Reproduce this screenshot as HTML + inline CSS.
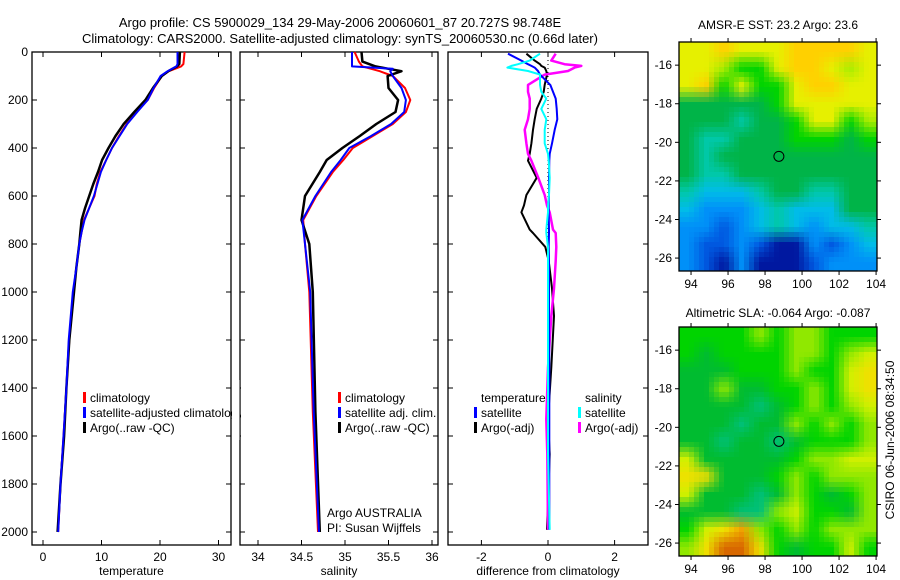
<!DOCTYPE html>
<html><head><meta charset="utf-8"><style>
body{margin:0;background:#fff}
svg{display:block;font-family:"Liberation Sans",sans-serif;font-size:12px}
</style></head><body>
<svg id="fig" width="900" height="580" xmlns="http://www.w3.org/2000/svg">
<rect width="900" height="580" fill="#fff"/>
<text x="340" y="27" text-anchor="middle" font-size="13">Argo profile: CS 5900029_134 29-May-2006 20060601_87 20.727S 98.748E</text>
<text x="340" y="43" text-anchor="middle" font-size="13">Climatology: CARS2000. Satellite-adjusted climatology: synTS_20060530.nc (0.66d later)</text>
<text x="778" y="29" text-anchor="middle">AMSR-E SST: 23.2 Argo: 23.6</text>
<text x="778" y="317" text-anchor="middle">Altimetric SLA: -0.064 Argo: -0.087</text>
<text transform="translate(894,440) rotate(-90)" text-anchor="middle">CSIRO 06-Jun-2006 08:34:50</text>
<g id="plots"></g>
</svg>
<script>
// ---- data ----
const depthT = [0,50,60,80,100,150,200,250,300,350,400,450,500,550,600,650,700,750,800,900,1000,1200,1400,1600,1800,2000];
const tempClim = [24.2,24.0,23.6,21.5,20.3,19.0,17.9,16.0,14.3,13.0,11.8,10.8,9.8,9.2,8.8,7.9,7.0,6.6,6.2,5.7,5.2,4.5,4.0,3.5,3.0,2.6];
const tempSat  = [23.0,23.0,22.8,21.3,20.1,18.9,17.9,16.1,14.4,13.1,11.8,10.8,9.9,9.3,8.7,7.9,7.1,6.6,6.2,5.7,5.1,4.4,4.0,3.5,3.0,2.6];
const tempArgo = [23.4,23.3,22.9,21.4,20.3,18.8,17.5,15.6,13.8,12.4,11.2,10.1,9.4,8.6,7.9,7.2,6.6,6.4,6.2,5.7,5.3,4.5,4.0,3.6,3.0,2.5];
const depthS = [0,40,60,70,80,100,150,200,250,300,350,400,450,500,600,700,800,1000,1500,2000];
const salClim = [35.11,35.16,35.20,35.30,35.40,35.55,35.69,35.75,35.70,35.55,35.32,35.09,34.98,34.86,34.67,34.52,34.54,34.59,34.63,34.69];
const salSat  = [35.08,35.08,35.08,35.55,35.52,35.55,35.65,35.70,35.68,35.53,35.30,35.05,34.95,34.84,34.66,34.51,34.54,34.60,34.64,34.70];
const salArgo = [35.19,35.20,35.35,35.50,35.65,35.49,35.50,35.61,35.58,35.36,35.17,34.97,34.79,34.71,34.54,34.50,34.59,34.63,34.66,34.71];
const depthD = [7,36,51,58,65,79,94,137,166,194,237,280,324,381,424,453,524,596,639,668,740,754,812,870,985,1100,1315,1531,1675,1991];
const diffTsat = [-1.2,-0.8,-0.6,-0.5,-0.4,-0.3,-0.24,0.07,0.15,0.23,0.26,0.28,0.2,0.12,0.05,0.04,0.03,0.03,0.02,0.02,0.03,0.03,0.02,0.03,0.03,0.03,0.04,0.04,0.04,0.04];
const diffTargo = [-0.65,-0.4,-0.24,-0.2,-0.1,-0.05,-0.03,-0.1,-0.13,-0.2,-0.34,-0.4,-0.45,-0.5,-0.55,-0.6,-0.34,-0.65,-0.72,-0.8,-0.55,-0.45,-0.08,0.02,0.12,0.18,0.1,0.0,0.05,-0.03];
const diffSsat = [-0.24,-0.55,-0.9,-1.1,-1.22,-0.6,-0.24,-0.24,-0.2,-0.05,-0.2,-0.05,-0.1,-0.1,0.0,0.02,0.05,0.03,0.0,0.0,-0.05,-0.05,0.0,0.0,0.0,0.0,0.0,0.0,0.0,0.05];
const diffSargo = [0.23,0.1,0.5,1.0,0.8,0.6,-0.1,-0.6,-0.6,-0.55,-0.55,-0.6,-0.7,-0.65,-0.6,-0.5,-0.29,-0.1,-0.03,0.05,0.15,0.23,0.25,0.23,0.18,0.1,0.0,-0.05,-0.02,0.0];
const tempTicks = [0,10,20,30];
const salTicks = [34,34.5,35,35.5,36];
const diffTicks = [-2,0,2];
const depthTicks = [0,200,400,600,800,1000,1200,1400,1600,1800,2000];
const lonTicks = [94,96,98,100,102,104];
const latTicks = [-16,-18,-20,-22,-24,-26];
const argoLon = 98.748, argoLat = -20.727;
const sstGrid = ["YYOYYYOOOOY","YYLGGYOOYLY","YOGYGGYOOYY","DDDDDGYYYYY","DDDTDDGYYGL","DTTDDDGGGDG","DTDDDDDDDDD","DTTDDDDDDDD","TCCCTDDTTDD","CBBBCTCCCDD","BBbBCTCBCCT","BbbBbNNBbBC","BbNBNNNbBBB"];
const slaGrid = ["GGGGLGLLGGG","GDGGGGLLGLY","DDDGGGLGGYy","DDLDDGGLGYy","DDDDTDGLGLY","DDDTDDLGLGL","DDTDDTDGGGL","YDDDDDGLLYY","yyDDDGLGLLL","YDDDTDLGDGL","DDDTTLYGGDL","GYyOLGLGLLL","LyRRyGDGGYG"];
// ---- drawing ----
const NS="http://www.w3.org/2000/svg";
const root=document.getElementById('plots');
function el(tag,attrs,parent){const e=document.createElementNS(NS,tag);for(const k in attrs)e.setAttribute(k,attrs[k]);(parent||root).appendChild(e);return e;}
const top0=52, pxm=0.24;
const yD=d=>top0+d*pxm;
const panels=[
 {x0:32,x1:231,sx:v=>43+v*5.85,ticks:tempTicks,lab:'temperature',name:'temperature-panel'},
 {x0:240,x1:438,sx:v=>258+(v-34)*87,ticks:salTicks,lab:'salinity',name:'salinity-panel'},
 {x0:448,x1:648,sx:v=>548+v*33.3,ticks:diffTicks,lab:'difference from climatology',name:'difference-panel'}];
const PB=545;
panels.forEach((p,i)=>{
  const g=el('g',{});
  
  
  const r=el('rect',{x:p.x0,y:top0,width:p.x1-p.x0,height:PB-top0,fill:'none',stroke:'#000','stroke-width':1.3},g);
  
  
  p.ticks.forEach(t=>{const x=p.sx(t);
    el('line',{x1:x,x2:x,y1:PB,y2:PB-5,stroke:'#000'},g);
    el('line',{x1:x,x2:x,y1:top0,y2:top0+5,stroke:'#000'},g);
    const tx=el('text',{x:x,y:PB+16,'text-anchor':'middle'},g);tx.textContent=t;
    
    
  });
  depthTicks.forEach(d=>{const y=yD(d);
    el('line',{x1:p.x0,x2:p.x0+5,y1:y,y2:y,stroke:'#000'},g);
    el('line',{x1:p.x1,x2:p.x1-5,y1:y,y2:y,stroke:'#000'},g);
    if(i===0){const tx=el('text',{x:28,y:y+4,'text-anchor':'end'},g);tx.textContent=d;
      
      }
  });
  const xl=el('text',{x:(p.x0+p.x1)/2,y:PB+30,'text-anchor':'middle'},g);xl.textContent=p.lab;
  
  
});
function line(p,xs,ds,color,w,name){
  const pts=xs.map((v,k)=>p.sx(v).toFixed(1)+','+yD(ds[k]).toFixed(1)).join(' ');
  const l=el('polyline',{points:pts,fill:'none',stroke:color,'stroke-width':w,'stroke-linejoin':'round'});
  
  
}
const [P1,P2,P3]=panels;
line(P1,tempClim,depthT,'#f00',2,'temp-climatology-line');
line(P1,tempArgo,depthT,'#000',2.5,'temp-argo-line');
line(P1,tempSat,depthT,'#00f',2,'temp-satellite-line');
line(P2,salClim,depthS,'#f00',2,'sal-climatology-line');
line(P2,salArgo,depthS,'#000',2.5,'sal-argo-line');
line(P2,salSat,depthS,'#00f',2,'sal-satellite-line');
const zl=el('line',{x1:P3.sx(0),x2:P3.sx(0),y1:yD(0),y2:yD(2000),stroke:'#000','stroke-dasharray':'1,3'});


line(P3,diffTargo,depthD,'#000',2,'diff-temp-argo-line');
line(P3,diffSargo,depthD,'#f0f',2.5,'diff-sal-argo-line');
line(P3,diffTsat,depthD,'#00f',2,'diff-temp-satellite-line');
line(P3,diffSsat,depthD,'#0ff',2,'diff-sal-satellite-line');
function legend(x,y,items){
  items.forEach((it,k)=>{const yy=y+k*15;
    if(it.c){const m=el('rect',{x:x,y:yy-10,width:3,height:11,fill:it.c});
      
      }
    const t=el('text',{x:x+7,y:yy});t.textContent=it.t;
    
    
  });
}
legend(83,402,[{c:'#f00',t:'climatology'},{c:'#00f',t:'satellite-adjusted climatology'},{c:'#000',t:'Argo(..raw -QC)'}]);
const cover=el('rect',{x:232,y:380,width:7.5,height:60,fill:'#fff'});

const cover2=el('rect',{x:241,y:380,width:10,height:60,fill:'#fff'});

legend(338,402,[{c:'#f00',t:'climatology'},{c:'#00f',t:'satellite adj. clim.'},{c:'#000',t:'Argo(..raw -QC)'}]);
legend(320,517,[{t:'Argo AUSTRALIA'},{t:'PI: Susan Wijffels'}]);
legend(474,402,[{t:'temperature'},{c:'#00f',t:'satellite'},{c:'#000',t:'Argo(-adj)'}]);
legend(578,402,[{t:'salinity'},{c:'#0ff',t:'satellite'},{c:'#f0f',t:'Argo(-adj)'}]);
// maps
const sstPal={O:'#ffd000',Y:'#e6f000',L:'#a8ec00',G:'#00d400',D:'#00b448',T:'#00c8a8',C:'#00bce8',B:'#0090f8',b:'#0058e0',N:'#0018a0'};
const slaPal={G:'#00d400',D:'#00bc30',T:'#00c078',L:'#90e800',Y:'#d0f000',y:'#f0e000',O:'#f0a000',R:'#d86800'};
function hex(c){return [parseInt(c.substr(1,2),16),parseInt(c.substr(3,2),16),parseInt(c.substr(5,2),16)];}
function map(y0,grid,pal,name){
  const x0=679,x1=877,y1=y0+229;
  const g=el('g',{});
  
  
  const lonMin=93.35,lonMax=104.05,latTop=-14.8,latBot=-26.67;
  const sx=l=>x0+(l-lonMin)/(lonMax-lonMin)*(x1-x0);
  const sy=l=>y0+(latTop-l)/(latTop-latBot)*(y1-y0);
  const R=grid.length,C=grid[0].length;
  const cols=grid.map(row=>[...row].map(c=>hex(pal[c])));
  const step=5;
  for(let py=y0;py<y1;py+=step){for(let px=x0;px<x1;px+=step){
    const fx=Math.min(Math.max((px+step/2-x0)/(x1-x0)*C-0.5,0),C-1);
    const fy=Math.min(Math.max((py+step/2-y0)/(y1-y0)*R-0.5,0),R-1);
    const i0=Math.floor(fx),j0=Math.floor(fy),i1=Math.min(i0+1,C-1),j1=Math.min(j0+1,R-1);
    const ax=fx-i0,ay=fy-j0;
    const c=[0,1,2].map(k=>Math.round(cols[j0][i0][k]*(1-ax)*(1-ay)+cols[j0][i1][k]*ax*(1-ay)+cols[j1][i0][k]*(1-ax)*ay+cols[j1][i1][k]*ax*ay));
    const cell=el('rect',{x:px,y:py,width:Math.min(step,x1-px)+0.4,height:Math.min(step,y1-py)+0.4,fill:'rgb('+c.join(',')+')'},g);
    
    
  }}
  el('rect',{x:x0,y:y0,width:x1-x0,height:y1-y0,fill:'none',stroke:'#000','stroke-width':1.3},g);
  lonTicks.forEach(l=>{const x=sx(l);
    el('line',{x1:x,x2:x,y1:y1,y2:y1+4,stroke:'#000'},g);
    el('line',{x1:x,x2:x,y1:y0,y2:y0-4,stroke:'#000'},g);
    const t=el('text',{x:x,y:y1+17,'text-anchor':'middle'},g);t.textContent=l;
    });
  latTicks.forEach(l=>{const y=sy(l);
    el('line',{x1:x0,x2:x0-4,y1:y,y2:y,stroke:'#000'},g);
    el('line',{x1:x1,x2:x1+4,y1:y,y2:y,stroke:'#000'},g);
    const t=el('text',{x:x0-7,y:y+4,'text-anchor':'end'},g);t.textContent=l;
    });
  const c=el('circle',{cx:sx(argoLon),cy:sy(argoLat),r:5,fill:'none',stroke:'#000'},g);
  
  
}
map(42,sstGrid,sstPal,'sst-map');
map(327,slaGrid,slaPal,'sla-map');
</script>
</body></html>
